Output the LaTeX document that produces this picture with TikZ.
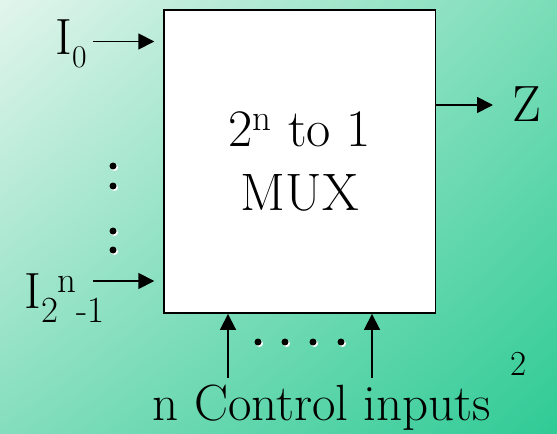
\documentclass[tikz,border=0pt]{standalone}
\usetikzlibrary{arrows.meta,positioning,calc,shadings}
\definecolor{bgtl}{RGB}{226,245,236}
\definecolor{bgtr}{RGB}{122,221,184}
\definecolor{bgbl}{RGB}{132,222,190}
\definecolor{bgbr}{RGB}{48,203,150}
\tikzset{
  muxbox/.style={draw,line width=1.1pt,fill=white,minimum width=5.43cm,minimum height=6.06cm,
    align=center,font=\fontsize{30}{36.3}\selectfont,inner sep=0pt},
  sig/.style   ={-{Triangle[length=0.32cm,width=0.32cm]},line width=1pt},
  lbl/.style   ={font=\fontsize{29}{36}\selectfont,inner sep=0pt},
  dotc/.style  ={circle,fill=black,inner sep=0pt,minimum size=0.14cm},
  dots/.style  ={circle,fill=white,inner sep=0pt,minimum size=0.14cm},
}
\newcommand{\vdot}[2]{%
  \node[dots] at ($(#1)+(1.5,-1.5)$) {};
  \node[dotc] (#2) at (#1) {};}
\begin{document}
\begin{tikzpicture}[x=0.02cm,y=0.02cm]
  \shade[upper left=bgtl,upper right=bgtr,lower left=bgbl,lower right=bgbr]
    (0,0) rectangle (557,433);
  \useasboundingbox (0,0) rectangle (557,433);
  % the multiplexer
  \node[muxbox] (mux) at (299.75,271.5) {2\textsuperscript{n} to 1\\MUX};
  % data inputs
  \node[lbl,anchor=base west] (i0) at (55,378)
    {I\raisebox{-7.4pt}{\fontsize{18}{18}\selectfont 0}};
  \node[lbl,anchor=base west] (ilast) at (24,125)
    {I\raisebox{-8pt}{\fontsize{21}{21}\selectfont 2\raisebox{17pt}{n}-1}};
  \coordinate (i0s) at (93,391.5);
  \coordinate (ils) at (93,152);
  \draw[sig,shorten >=5pt] (i0s) -- (i0s -| mux.west);
  \draw[sig,shorten >=5pt] (ils) -- (ils -| mux.west);
  \vdot{113,267}{v1}
  \vdot{113,247}{v2}
  \vdot{113,202}{v3}
  \vdot{113,183}{v4}
  % output
  \node[lbl] (z) at (527,328.5) {Z};
  \coordinate (zs) at (mux.east |- 0,328);
  \draw[sig] (zs) -- (493,328);
  % select lines
  \node[lbl,anchor=base] (ctl) at (322,13) {n Control inputs};
  \coordinate (c1) at (228,55);
  \coordinate (c2) at (372,55);
  \draw[sig] (c1) -- (c1 |- mux.south);
  \draw[sig] (c2) -- (c2 |- mux.south);
  \vdot{258,91}{h1}
  \vdot{285,91}{h2}
  \vdot{313,91}{h3}
  \vdot{341,91}{h4}
  \node[font=\fontsize{20}{20}\selectfont,anchor=base] (pg) at (519,58) {2};
\end{tikzpicture}
\end{document}
